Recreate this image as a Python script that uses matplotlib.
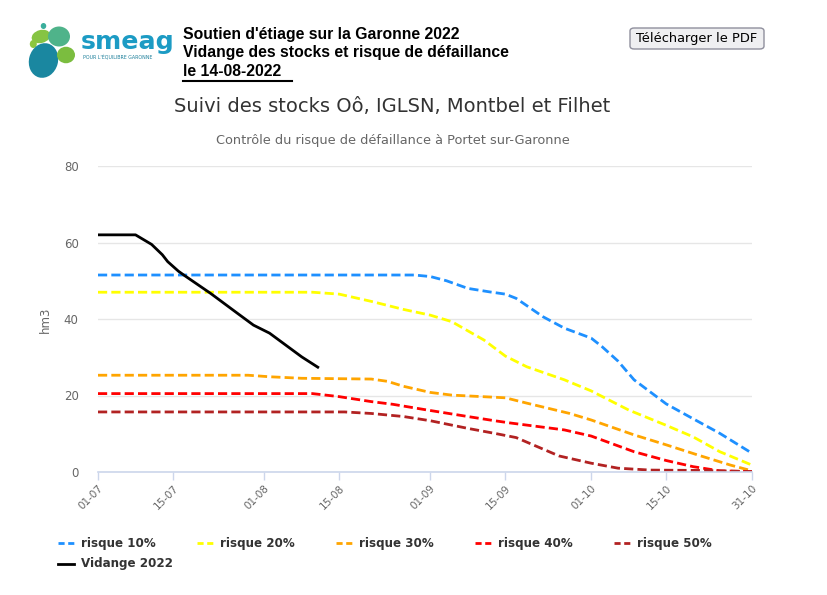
import datetime as dt
import matplotlib
matplotlib.use("Agg")
import matplotlib.pyplot as plt
import matplotlib.dates as mdates
from matplotlib.lines import Line2D
from matplotlib.patches import Ellipse, FancyBboxPatch

# data (dd-mm, hm3)
r10_dates = ["01-07", "29-08", "01-09", "04-09", "08-09", "12-09", "15-09", "17-09",
             "22-09", "26-09", "01-10", "03-10", "06-10", "09-10", "15-10", "19-10",
             "25-10", "31-10"]
r10_vals = [51.5, 51.5, 51.1, 50.0, 48.0, 47.1, 46.5, 45.4,
            40.6, 37.6, 35.0, 32.8, 29.0, 24.1, 17.8, 14.7, 10.1, 4.9]

r20_dates = ["01-07", "10-08", "15-08", "21-08", "27-08", "01-09", "05-09", "11-09",
             "15-09", "19-09", "26-09", "01-10", "08-10", "15-10", "20-10", "25-10", "31-10"]
r20_vals = [47.0, 47.0, 46.5, 44.6, 42.5, 41.0, 39.3, 34.5,
            30.3, 27.5, 24.1, 21.2, 16.2, 12.2, 9.2, 5.3, 1.8]

r30_dates = ["01-07", "29-07", "02-08", "08-08", "21-08", "24-08", "27-08", "01-09",
             "05-09", "15-09", "19-09", "27-09", "01-10", "09-10", "15-10", "21-10",
             "27-10", "31-10"]
r30_vals = [25.3, 25.3, 24.9, 24.5, 24.3, 23.7, 22.4, 20.8,
            20.1, 19.4, 18.0, 15.3, 13.6, 9.7, 7.1, 4.4, 1.8, 0.3]

r40_dates = ["01-07", "10-08", "15-08", "21-08", "25-08", "31-08", "08-09", "13-09",
             "16-09", "26-09", "01-10", "09-10", "15-10", "20-10", "25-10", "31-10"]
r40_vals = [20.5, 20.5, 19.7, 18.4, 17.7, 16.3, 14.5, 13.4,
            12.8, 11.0, 9.4, 5.3, 3.0, 1.4, 0.3, 0.1]

r50_dates = ["01-07", "16-08", "21-08", "27-08", "01-09", "08-09", "13-09", "17-09",
             "21-09", "25-09", "01-10", "06-10", "12-10", "22-10", "31-10"]
r50_vals = [15.7, 15.7, 15.3, 14.5, 13.4, 11.4, 10.1, 9.0,
            6.6, 4.2, 2.3, 1.0, 0.5, 0.4, 0.1]

vid_dates = ["01-07", "08-07", "11-07", "13-07", "14-07", "16-07", "17-07", "22-07",
             "27-07", "30-07", "02-08", "05-08", "08-08", "11-08"]
vid_vals = [62.0, 62.0, 59.5, 56.8, 55.0, 52.5, 51.5, 46.7,
            41.5, 38.4, 36.3, 33.2, 30.1, 27.4]

tick_dates = ["01-07", "15-07", "01-08", "15-08", "01-09", "15-09", "01-10", "15-10", "31-10"]


def to_dates(lst):
    return [dt.datetime.strptime(d + "-2022", "%d-%m-%Y") for d in lst]


series = [
    ("risque 10%", r10_dates, r10_vals, "#1e90ff"),
    ("risque 20%", r20_dates, r20_vals, "#ffff00"),
    ("risque 30%", r30_dates, r30_vals, "#ffa500"),
    ("risque 40%", r40_dates, r40_vals, "#ff0000"),
    ("risque 50%", r50_dates, r50_vals, "#b22222"),
]

W, H = 828, 595
fig = plt.figure(figsize=(W / 100, H / 100), dpi=100)


def fx(px):
    return px / W


def fy(py):
    return 1 - py / H


ax = fig.add_axes([fx(98), fy(472), fx(654), 306 / H])

for name, d, v, c in series:
    ax.plot(to_dates(d), v, color=c, lw=2, dashes=(3.3, 1.5), solid_capstyle="butt")
ax.plot(to_dates(vid_dates), vid_vals, color="black", lw=2)

ax.set_xlim(dt.datetime(2022, 7, 1), dt.datetime(2022, 10, 31))
ax.set_ylim(0, 80)
ax.set_yticks([0, 20, 40, 60, 80])
ax.set_xticks(to_dates(tick_dates))
ax.xaxis.set_major_formatter(mdates.DateFormatter("%d-%m"))
ax.tick_params(axis="y", length=0, pad=14, labelsize=8.5, labelcolor="#666666")
ax.tick_params(axis="x", length=6, width=1, color="#ccd6eb", labelsize=7.5,
               labelcolor="#666666", pad=2)
for lab in ax.get_xticklabels():
    lab.set_rotation(45)
    lab.set_ha("right")
    lab.set_rotation_mode("anchor")
ax.grid(axis="y", color="#e6e6e6", lw=1)
ax.set_axisbelow(True)
for s in ["top", "right", "left"]:
    ax.spines[s].set_visible(False)
ax.spines["bottom"].set_color("#ccd6eb")
ax.spines["bottom"].set_linewidth(1.2)

fig.text(fx(45), fy(320), "hm3", rotation=90, ha="center", va="center",
         fontsize=8.5, color="#666666")

# titles
fig.text(fx(392), fy(106), "Suivi des stocks Oô, IGLSN, Montbel et Filhet",
         ha="center", va="center", fontsize=14, color="#333333")
fig.text(fx(393), fy(140), "Contrôle du risque de défaillance à Portet sur-Garonne",
         ha="center", va="center", fontsize=9.3, color="#666666")

# header
hdr = ["Liberation Sans", "DejaVu Sans"]
fig.text(fx(183), fy(35), "Soutien d'étiage sur la Garonne 2022", ha="left", va="center",
         fontsize=11.3, fontweight="bold", family=hdr)
fig.text(fx(183), fy(52), "Vidange des stocks et risque de défaillance", ha="left", va="center",
         fontsize=11.3, fontweight="bold", family=hdr)
fig.text(fx(183), fy(72), "le 14-08-2022", ha="left", va="center",
         fontsize=11.3, fontweight="bold", family=hdr)
fig.add_artist(Line2D([fx(183), fx(292)], [fy(81), fy(81)], color="black", lw=1.5))

# button
fig.add_artist(FancyBboxPatch((fx(630), fy(49)), fx(134), 21 / H,
                              boxstyle="round,pad=0,rounding_size=0.005",
                              facecolor="#efeff1", edgecolor="#8f8f9d", lw=1,
                              transform=fig.transFigure))
fig.text(fx(697), fy(38.5), "Télécharger le PDF", ha="center", va="center",
         fontsize=9.4, color="black")

# logo
lax = fig.add_axes([fx(25), fy(80), fx(55), 60 / H])
lax.set_xlim(25, 80)
lax.set_ylim(80, 20)
lax.axis("off")
blobs = [
    ((43.5, 26), 5.5, 6, 0, "#3aae9c"),
    ((41, 36.5), 19, 13, -15, "#86c443"),
    ((59, 36.5), 22, 20, 0, "#4fb38a"),
    ((33.3, 44), 7, 8, 0, "#8cc63f"),
    ((43.5, 60.5), 29, 35, 15, "#1a87a0"),
    ((66, 55), 18, 16.5, 0, "#7bbd3f"),
]
for c, w, h, a, col in blobs:
    lax.add_patch(Ellipse(c, w, h, angle=a, facecolor=col, edgecolor="none"))

fig.text(fx(81), fy(42), "smeag", ha="left", va="center", fontsize=18.2,
         fontweight="bold", color="#1c9bc4", family="DejaVu Sans")
fig.text(fx(83), fy(57), "POUR L'ÉQUILIBRE GARONNE", ha="left", va="center", fontsize=3.4,
         color="#1c7f9a")

# legend
leg_x = [58, 197, 336, 475, 614]
for (name, d, v, c), x0 in zip(series, leg_x):
    fig.add_artist(Line2D([fx(x0), fx(x0 + 16)], [fy(543), fy(543)], color=c, lw=2,
                          dashes=(2.2, 1.3)))
    fig.text(fx(x0 + 23), fy(543), name, ha="left", va="center", fontsize=8.6,
             fontweight="bold", color="#333333")
fig.add_artist(Line2D([fx(58), fx(74)], [fy(564), fy(564)], color="black", lw=2))
fig.text(fx(81), fy(564), "Vidange 2022", ha="left", va="center", fontsize=8.6,
         fontweight="bold", color="#333333")

fig.savefig("out.png", dpi=100)
